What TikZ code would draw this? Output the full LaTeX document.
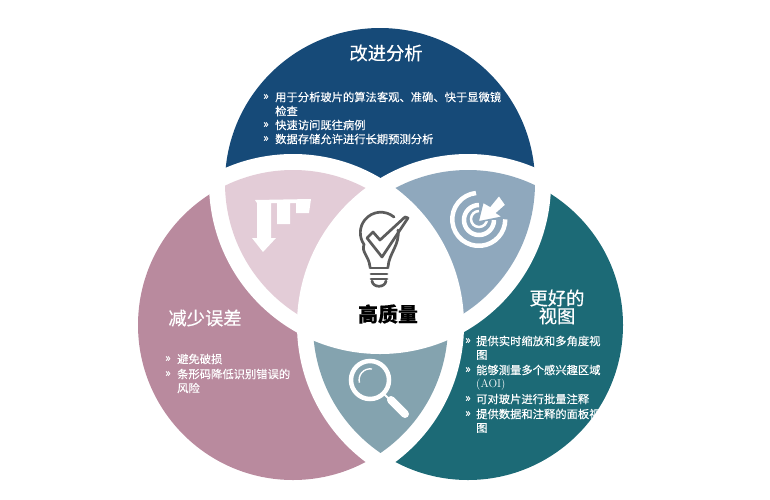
\documentclass[tikz,border=0pt]{standalone}
\usepackage{fontspec}
\newfontfamily\cjk[FakeBold=0.15]{Noto Sans CJK SC}
\newfontfamily\cjktitle[FakeBold=0.45]{Noto Sans CJK SC}
\definecolor{navy_blue}{HTML}{164A78}
\definecolor{rose_red}{HTML}{B98A9E}
\definecolor{deep_teal}{HTML}{1C6A76}
\definecolor{pale_pink}{HTML}{E3CCD7}
\definecolor{steel_blue}{HTML}{8FA8BD}
\definecolor{gray_teal}{HTML}{84A3AF}
\definecolor{icon_gray}{HTML}{5C5C5C}

\begin{document}
\begin{tikzpicture}[
  x=1pt, y=1pt,
  list_text/.style={inner sep=0pt, text=white, font=\cjk\fontsize{11.3}{12}\selectfont},
  title_text/.style={inner sep=0pt, text=white, font=\cjktitle\fontsize{18.3}{20}\selectfont},
  center_text/.style={inner sep=0pt, text=black, font=\cjk\bfseries\fontsize{20}{22}\selectfont},
  white_icon/.style={white, line width=4.5pt},
  bulb_line/.style={icon_gray, line width=2.7pt, line join=round, line cap=round},
]
\useasboundingbox (0,0) rectangle (770,-499);
\def\rin{155}
\def\rclip{156.5}
\def\rout{171}
\coordinate (T) at (380,-183);
\coordinate (L) at (293,-325);
\coordinate (R) at (468,-325);

% outer parts of the three circles
\fill[navy_blue] (T) circle[radius=\rin];
\fill[rose_red] (L) circle[radius=\rin];
\fill[deep_teal] (R) circle[radius=\rin];
\begin{scope}
  \clip (T) circle[radius=\rclip];
  \fill[white] (L) circle[radius=\rout];
  \fill[white] (R) circle[radius=\rout];
\end{scope}
\begin{scope}
  \clip (L) circle[radius=\rclip];
  \fill[white] (T) circle[radius=\rout];
  \fill[white] (R) circle[radius=\rout];
\end{scope}
\begin{scope}
  \clip (R) circle[radius=\rclip];
  \fill[white] (T) circle[radius=\rout];
  \fill[white] (L) circle[radius=\rout];
\end{scope}

% overlaps
\begin{scope}
  \clip (T) circle[radius=\rin];
  \fill[pale_pink] (L) circle[radius=\rin];
\end{scope}
\begin{scope}
  \clip (T) circle[radius=\rclip];
  \clip (L) circle[radius=\rclip];
  \fill[white] (R) circle[radius=\rout];
\end{scope}
\begin{scope}
  \clip (T) circle[radius=\rin];
  \fill[steel_blue] (R) circle[radius=\rin];
\end{scope}
\begin{scope}
  \clip (T) circle[radius=\rclip];
  \clip (R) circle[radius=\rclip];
  \fill[white] (L) circle[radius=\rout];
\end{scope}
\begin{scope}
  \clip (L) circle[radius=\rin];
  \fill[gray_teal] (R) circle[radius=\rin];
\end{scope}
\begin{scope}
  \clip (L) circle[radius=\rclip];
  \clip (R) circle[radius=\rclip];
  \fill[white] (T) circle[radius=\rout];
\end{scope}

% arrow icon
\fill[white] (255,-200) -- (311,-199) -- (309,-213) -- (296,-213) -- (296,-203) -- (290,-203)
  -- (290,-224) -- (277,-224) -- (277,-203) -- (271,-203) -- (271,-238) -- (276,-238)
  -- (263,-252) -- (252,-238) -- (257,-238) -- (257,-203) -- cycle;

% target icon
\draw[white_icon] (476,-193) arc[start angle=96, end angle=360, radius=26.5];
\draw[white_icon] (479,-205) arc[start angle=90, end angle=360, radius=15];
\draw[white, line width=2.5pt] (479,-211) arc[start angle=90, end angle=360, radius=8];
\fill[white, draw=steel_blue, line width=1.5pt] (478,-222) -- (483,-202) -- (490,-206)
  -- (499,-195) -- (506,-205) -- (497,-213) -- (503,-217) -- cycle;

% magnifier icon
\draw[white_icon] (370,-380) circle[radius=19];
\draw[white, line width=1.4pt] (372,-369) arc[start angle=80, end angle=195, radius=11];
\draw[white, line width=2pt] (384,-394) -- (390,-400);
\draw[white, line width=8pt, line cap=round] (391,-400) -- (405,-414);

% bulb icon
\draw[bulb_line] (394,-217) arc[start angle=50, end angle=215, radius=20.5]
  .. controls (361,-252) and (369,-256) .. (370,-267);
\draw[bulb_line] (398,-230) .. controls (400,-245) and (389,-253) .. (388,-267);
\draw[bulb_line] (367,-238) -- (373,-232) -- (380,-240) -- (405,-217) -- (408,-218) -- (382,-257) -- cycle;
\draw[bulb_line] (370,-268) -- (388,-268);
\draw[bulb_line] (371,-274) -- (387,-274);
\draw[bulb_line] (371,-279) -- (387,-279);
\draw[bulb_line] (372,-281) .. controls (373,-288) and (385,-288) .. (386,-281);

% titles
\draw (386,-53) node (top_title) [title_text] {改进分析};
\draw (205,-318) node (left_title) [title_text] {减少误差};
\draw (557,-298) node (right_title_a) [title_text] {更好的};
\draw (557,-316) node (right_title_b) [title_text] {视图};
\draw (388,-314) node (center_title) [center_text] {高质量};

% top list
\draw (263,-97) node (top_mark_a) [list_text, right] {»};
\draw (275,-97) node (top_line_a) [list_text, right] {用于分析玻片的算法客观、准确、快于显微镜};
\draw (275,-111) node (top_line_b) [list_text, right] {检查};
\draw (263,-125) node (top_mark_b) [list_text, right] {»};
\draw (275,-125) node (top_line_c) [list_text, right] {快速访问既往病例};
\draw (263,-139) node (top_mark_c) [list_text, right] {»};
\draw (275,-139) node (top_line_d) [list_text, right] {数据存储允许进行长期预测分析};

% left list
\draw (165,-359) node (left_mark_a) [list_text, right] {»};
\draw (177,-359) node (left_line_a) [list_text, right] {避免破损};
\draw (165,-374) node (left_mark_b) [list_text, right] {»};
\draw (177,-374) node (left_line_b) [list_text, right] {条形码降低识别错误的};
\draw (177,-388) node (left_line_c) [list_text, right] {风险};

% right list
\draw (465,-341) node (right_mark_a) [list_text, right] {»};
\draw (476,-341) node (right_line_a) [list_text, right] {提供实时缩放和多角度视};
\draw (476,-355) node (right_line_b) [list_text, right] {图};
\draw (465,-370) node (right_mark_b) [list_text, right] {»};
\draw (476,-370) node (right_line_c) [list_text, right] {能够测量多个感兴趣区域};
\draw (476,-385) node (right_line_d) [list_text, right, font=\fontsize{11.3}{12}\selectfont] {(AOI)};
\draw (465,-399) node (right_mark_c) [list_text, right] {»};
\draw (476,-399) node (right_line_e) [list_text, right] {可对玻片进行批量注释};
\draw (465,-414) node (right_mark_d) [list_text, right] {»};
\draw (476,-414) node (right_line_f) [list_text, right] {提供数据和注释的面板视};
\draw (476,-428) node (right_line_g) [list_text, right] {图};
\end{tikzpicture}
\end{document}
